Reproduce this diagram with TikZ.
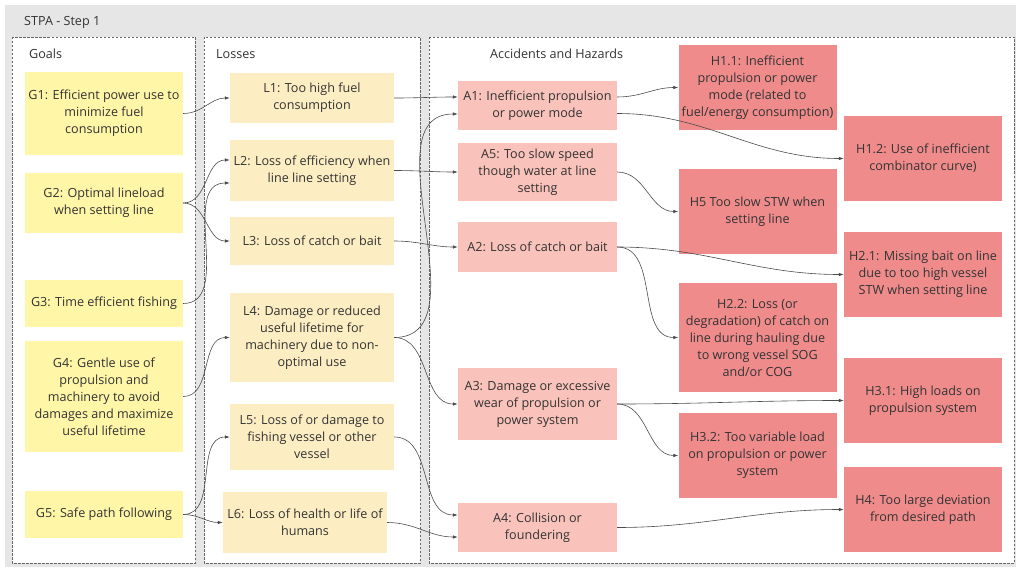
\documentclass[tikz,border=0pt]{standalone}
\usepackage{fontspec}
\setmainfont{Open Sans}
\usetikzlibrary{arrows.meta}
\definecolor{boardgray}{HTML}{E6E6E6}
\definecolor{goalyellow}{HTML}{FFF6A8}
\definecolor{lossorange}{HTML}{FDEDC2}
\definecolor{accpink}{HTML}{F9C2BA}
\definecolor{hazred}{HTML}{EF8B8B}
\definecolor{inkgray}{HTML}{333333}

\begin{document}
\begin{tikzpicture}[x=1pt, y=-1pt,
        font=\fontsize{12.6}{17}\selectfont, text=inkgray,
        col/.style={draw=black!60, dash pattern=on 2.5pt off 1.5pt, line width=0.6pt, fill=white},
        card/.style={align=center, inner sep=0pt},
        goal/.style={card, fill=goalyellow, minimum width=158},
        loss/.style={card, fill=lossorange, minimum width=164},
        acc/.style={card, fill=accpink, minimum width=159},
        haz/.style={card, fill=hazred, minimum width=158},
        head/.style={anchor=west, inner sep=0pt},
        line/.style={-{Latex[length=5pt,width=3.5pt]}, draw=black!70, line width=0.6pt}]
        \useasboundingbox (0,0) rectangle (1016,567);
        \fill[boardgray] (5,5) rectangle (1016,567);
        % columns
        \draw[col] (12,37) rectangle (195,563);
        \draw[col] (204,37) rectangle (420,563);
        \draw[col] (429,37) rectangle (1014,563);
        \node[head] (title) at (24,22) {STPA - Step 1};
        \node[head] (ghead) at (29,54) {Goals};
        \node[head] (lhead) at (216,54) {Losses};
        \node[head] (ahead) at (490,54) {Accidents and Hazards};
        % goals
        \node[goal, minimum height=83] (g1) at (104,113.5) {G1: Efficient power use to\\ minimize fuel\\ consumption};
        \node[goal, minimum height=60] (g2) at (104,203) {G2: Optimal lineload\\ when setting line};
        \node[goal, minimum height=47] (g3) at (104,303.5) {G3: Time efficient fishing};
        \node[goal, minimum height=111] (g4) at (104,396.5) {G4: Gentle use of\\ propulsion and\\ machinery to avoid\\ damages and maximize\\ useful lifetime};
        \node[goal, minimum height=47] (g5) at (104,514.5) {G5: Safe path following};
        % losses
        \node[loss, minimum height=50] (l1) at (312,98) {L1: Too high fuel\\ consumption};
        \node[loss, minimum height=61] (l2) at (312,170.5) {L2: Loss of efficiency when\\ line line setting};
        \node[loss, minimum height=48] (l3) at (312,241) {L3: Loss of catch or bait};
        \node[loss, minimum height=89] (l4) at (312,337.5) {L4: Damage or reduced\\ useful lifetime for\\ machinery due to non-\\ optimal use};
        \node[loss, minimum height=66] (l5) at (312,437) {L5: Loss of or damage to\\ fishing vessel or other\\ vessel};
        \node[loss, minimum height=61] (l6) at (305,522.5) {L6: Loss of health or life of\\ humans};
        % accidents
        \node[acc, minimum height=49] (a1) at (537.5,105.5) {A1: Inefficient propulsion\\ or power mode};
        \node[acc, minimum height=58] (a5) at (537.5,172) {A5: Too slow speed\\ though water at line\\ setting};
        \node[acc, minimum height=50] (a2) at (537.5,247) {A2: Loss of catch or bait};
        \node[acc, minimum height=72] (a3) at (537.5,404) {A3: Damage or excessive\\ wear of propulsion or\\ power system};
        \node[acc, minimum height=49] (a4) at (537.5,527.5) {A4: Collision or\\ foundering};
        % hazards
        \node[haz, minimum height=85] (h11) at (757.5,87.5) {H1.1: Inefficient\\ propulsion or power\\ mode (related to\\ fuel/energy consumption)};
        \node[haz, minimum height=85] (h5) at (757.5,211.5) {H5 Too slow STW when\\ setting line};
        \node[haz, minimum height=109] (h22) at (757.5,337.5) {H2.2: Loss (or\\ degradation) of catch on\\ line during hauling due\\ to wrong vessel SOG\\ and/or COG};
        \node[haz, minimum height=85] (h32) at (757.5,455.5) {H3.2: Too variable load\\ on propulsion or power\\ system};
        \node[haz, minimum height=85] (h12) at (923,158.5) {H1.2: Use of inefficient\\ combinator curve)};
        \node[haz, minimum height=85] (h21) at (923,274.5) {H2.1: Missing bait on line\\ due to too high vessel\\ STW when setting line};
        \node[haz, minimum height=85] (h31) at (923,400.5) {H3.1: High loads on\\ propulsion system};
        \node[haz, minimum height=85] (h4) at (923,509.5) {H4: Too large deviation\\ from desired path};
        % goals to losses
        \draw[line] (g1.east) to[out=0,in=180] (l1.west);
        \draw[line] (g2.east) to[out=0,in=180] ([yshift=10.5pt]l2.west);
        \draw[line] (g2.east) to[out=0,in=180] (l3.west);
        \draw[line] (g3.east) to[out=0,in=180] ([yshift=-12.5pt]l2.west);
        \draw[line] (g4.east) to[out=0,in=180] (l4.west);
        \draw[line] (g5.east) to[out=0,in=180] (l5.west);
        \draw[line] (g5.east) to[out=0,in=180] (l6.west);
        % losses to accidents
        \draw[line] (l1.east) to[out=0,in=180] ([yshift=8.5pt]a1.west);
        \draw[line] (l4.east) to[out=0,in=180] ([yshift=-8.5pt]a1.west);
        \draw[line] (l2.east) to[out=0,in=180] (a5.west);
        \draw[line] (l3.east) to[out=0,in=180] (a2.west);
        \draw[line] (l4.east) to[out=0,in=180] (a3.west);
        \draw[line] (l5.east) to[out=0,in=180] ([yshift=12.5pt]a4.west);
        \draw[line] (l6.east) to[out=0,in=180] ([yshift=-9.5pt]a4.west);
        % accidents to hazards
        \draw[line] ([yshift=8.5pt]a1.east) to[out=0,in=180] (h11.west);
        \draw[line] ([yshift=-8pt]a1.east) to[out=0,in=180] (h12.west);
        \draw[line] (a5.east) to[out=0,in=180] (h5.west);
        \draw[line] (a2.east) to[out=0,in=180] (h21.west);
        \draw[line] (a2.east) to[out=0,in=180] (h22.west);
        \draw[line] (a3.east) to[out=0,in=180] (h31.west);
        \draw[line] (a3.east) to[out=0,in=180] (h32.west);
        \draw[line] (a4.east) to[out=0,in=180] (h4.west);
    \end{tikzpicture}
\end{document}
